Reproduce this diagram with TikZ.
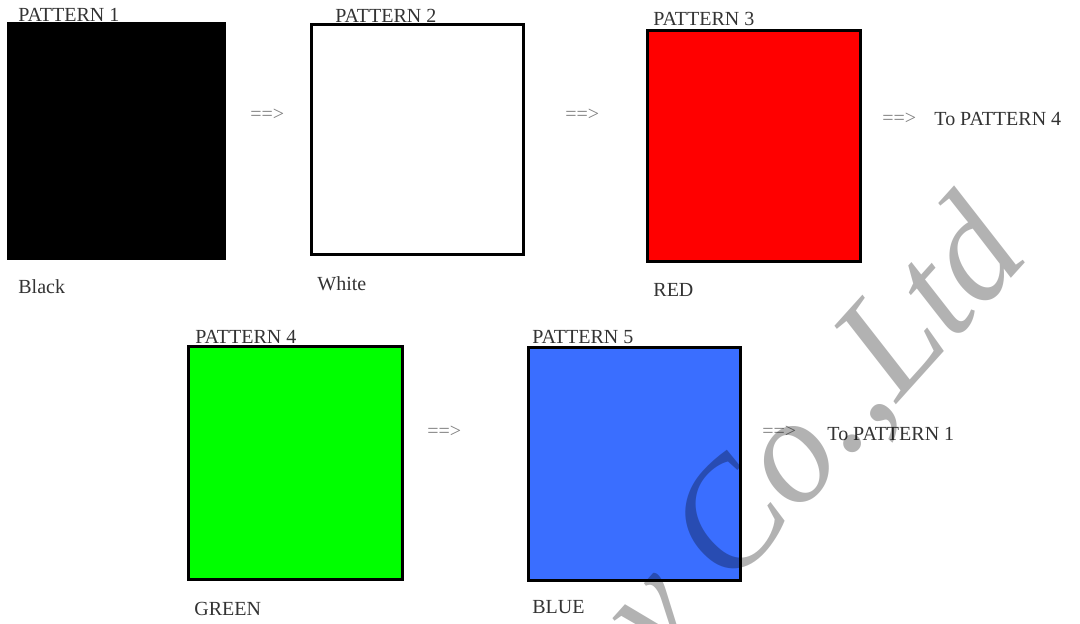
\documentclass[tikz,border=0pt]{standalone}
\usepackage{fontspec}
\setmainfont{Liberation Serif}
\begin{document}
\begin{tikzpicture}[x=0.5pt,y=-0.5pt,
  swatch/.style={draw=black,line width=1.5pt,inner sep=0pt,outer sep=0pt,anchor=north west},
  lbl/.style={anchor=base west,inner sep=0pt,text=black!80,font=\fontsize{10}{12}\selectfont},
  arr/.style={anchor=base west,inner sep=0pt,text=black!50,font=\fontsize{10}{12}\selectfont}]
\definecolor{pblue}{RGB}{58,110,255}
\useasboundingbox (0,0) rectangle (1080,623);
\begin{scope}
\clip (0,0) rectangle (1080,623);
% swatches
\node[swatch,fill=black,minimum width=108pt,minimum height=117.5pt] (s1) at (8,23) {};
\node[swatch,fill=white,minimum width=106pt,minimum height=115pt] (s2) at (311,24) {};
\node[swatch,fill=red,minimum width=106.5pt,minimum height=115.5pt] (s3) at (647,30) {};
\node[swatch,fill=green,minimum width=107pt,minimum height=116.5pt] (s4) at (188,346) {};
\node[swatch,fill=pblue,minimum width=106pt,minimum height=116.5pt] (s5) at (528,347) {};
% titles
\node[lbl] (t1) at (18,21) {PATTERN 1};
\node[lbl] (t2) at (335,22) {PATTERN 2};
\node[lbl] (t3) at (653,25) {PATTERN 3};
\node[lbl] (t4) at (195,343) {PATTERN 4};
\node[lbl] (t5) at (532,343) {PATTERN 5};
% colour names
\node[lbl] (c1) at (18,293) {Black};
\node[lbl] (c2) at (317,290) {White};
\node[lbl] (c3) at (653,296) {RED};
\node[lbl] (c4) at (194,615) {GREEN};
\node[lbl] (c5) at (532,613) {BLUE};
% arrows
\node[arr] (a1) at (250,120) {==>};
\node[arr] (a2) at (565,120) {==>};
\node[arr] (a3) at (882,124) {==>};
\node[lbl] (n3) at (934,125) {To PATTERN 4};
\node[arr] (a4) at (427,437) {==>};
\node[arr] (a5) at (762,437) {==>};
\node[lbl] (n5) at (827,440) {To PATTERN 1};
% watermark
\node[anchor=base east,inner sep=0pt,rotate=48,text=black,text opacity=0.3,
  font=\fontsize{75}{80}\selectfont\itshape] (wm) at (1032,255) {Technology Co.,Ltd};
\end{scope}
\end{tikzpicture}
\end{document}
